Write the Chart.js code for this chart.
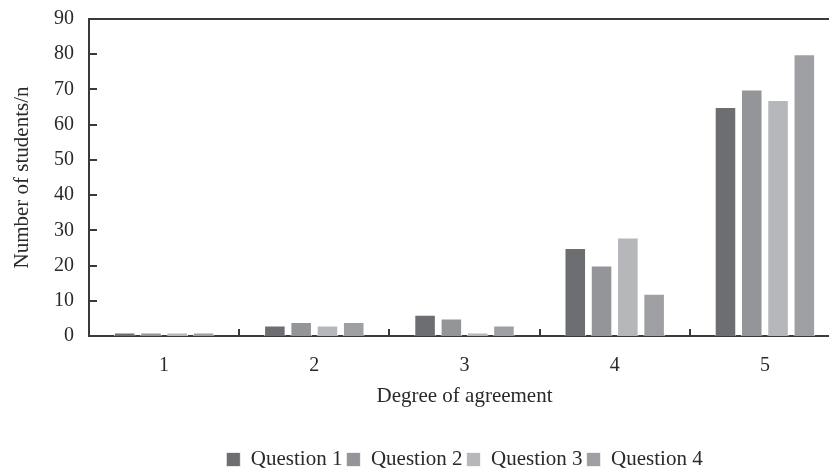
<!DOCTYPE html>
<html>
<head>
<meta charset="utf-8">
<script src="https://cdn.jsdelivr.net/npm/chart.js@4"></script>
<style>
  html, body { margin: 0; padding: 0; background: #fff; overflow: hidden; }
  #wrap { width: 845px; height: 470px; }
</style>
</head>
<body>
<div id="wrap"><canvas id="agreeChart" width="845" height="470"></canvas></div>
<script>
// Dữ liệu
const categories = ['1', '2', '3', '4', '5'];
const question1 = [1, 3, 6, 25, 65];
const question2 = [1, 4, 5, 20, 70];
const question3 = [1, 3, 1, 28, 67];
const question4 = [1, 4, 3, 12, 80];
const seriesNames = ['Question 1', 'Question 2', 'Question 3', 'Question 4'];
const yTicks = [0, 10, 20, 30, 40, 50, 60, 70, 80, 90];

const colors = ['#6d6e71', '#939598', '#b6b7ba', '#9e9fa2'];
const serif = "'Liberation Serif', 'DejaVu Serif', serif";
const axisColor = '#3a3a3a';
const textColor = '#2a2a2a';

// Vạch chia hướng vào trong + đường viền trên
const innerTicks = {
    id: 'innerTicks',
    afterDraw(chart) {
        const c = chart.ctx;
        const a = chart.chartArea;
        const x = chart.scales.x;
        const y = chart.scales.y;
        c.save();
        c.strokeStyle = axisColor;
        c.lineWidth = 2;
        // đường trên cùng
        c.beginPath();
        c.moveTo(a.left - 1, a.top);
        c.lineTo(a.right, a.top);
        c.stroke();
        // vạch trục y
        y.ticks.forEach((t, i) => {
            const py = Math.round(y.getPixelForTick(i));
            c.beginPath();
            c.moveTo(a.left, py);
            c.lineTo(a.left + 8, py);
            c.stroke();
        });
        // vạch trục x giữa các nhóm
        for (let i = 1; i < categories.length; i++) {
            const px = Math.round((x.getPixelForValue(i - 1) + x.getPixelForValue(i)) / 2);
            c.beginPath();
            c.moveTo(px, a.bottom);
            c.lineTo(px, a.bottom - 7);
            c.stroke();
        }
        c.restore();
    }
};

const ctx = document.getElementById('agreeChart').getContext('2d');
const seriesData = [question1, question2, question3, question4];

new Chart(ctx, {
    type: 'bar',
    data: {
        labels: categories,
        datasets: seriesNames.map((name, i) => ({
            label: name,
            data: seriesData[i],
            backgroundColor: colors[i],
            borderColor: 'rgba(255,255,255,0.7)',
            borderWidth: 1,
            categoryPercentage: 0.7,
            barPercentage: 0.82
        }))
    },
    options: {
        responsive: false,
        animation: false,
        layout: { padding: { top: 19, right: 5, left: 0, bottom: -10 } },
        plugins: {
            tooltip: { enabled: false },
            legend: {
                position: 'bottom',
                fullSize: false,
                labels: {
                    color: textColor,
                    font: { family: serif, size: 21 },
                    boxWidth: 14,
                    boxHeight: 14,
                    padding: 4
                }
            }
        },
        scales: {
            x: {
                grid: { display: false, drawTicks: false },
                border: { display: true, color: axisColor, width: 2 },
                ticks: { color: textColor, font: { family: serif, size: 20 }, padding: 18 },
                title: {
                    display: true,
                    text: 'Degree of agreement',
                    color: textColor,
                    font: { family: serif, size: 21 },
                    padding: { top: 6, bottom: 36 }
                },
                afterFit: s => { s.height = 109; }
            },
            y: {
                min: 0,
                max: 90,
                afterBuildTicks: s => { s.ticks = yTicks.map(v => ({ value: v })); },
                grid: { display: false, drawTicks: false },
                border: { display: true, color: axisColor, width: 2 },
                ticks: { color: textColor, font: { family: serif, size: 20 }, padding: 15 },
                title: {
                    display: true,
                    text: 'Number of students/n',
                    color: textColor,
                    font: { family: serif, size: 21 },
                    padding: { top: 10, bottom: 8 }
                },
                afterFit: s => {
                    s.width = 89;
                    s.paddingTop = 0;
                    s.paddingBottom = 0;
                }
            }
        }
    },
    plugins: [innerTicks]
});
</script>
</body>
</html>
